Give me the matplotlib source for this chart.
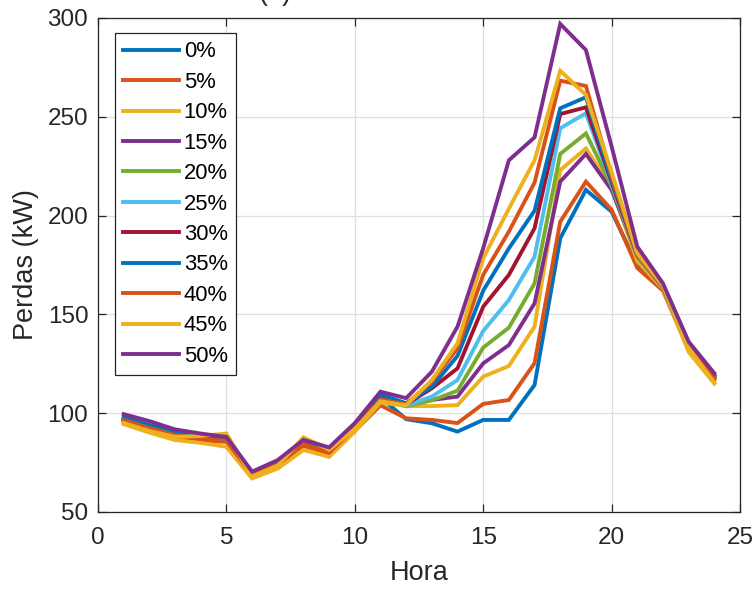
import matplotlib
matplotlib.use("Agg")
import matplotlib.pyplot as plt

plt.rcParams['font.family'] = ['Liberation Sans', 'DejaVu Sans']

hours = list(range(1, 25))
labels = ['0%', '5%', '10%', '15%', '20%', '25%', '30%', '35%', '40%', '45%', '50%']

p0 = [96.5, 92.5, 89, 87, 86.5, 69, 74, 84, 80, 93, 108, 97, 94.9, 90.7, 96.6, 96.6, 114.3, 188.5, 213, 202, 175, 163, 133, 118]
p5 = [95.5, 91.5, 88, 86, 85.5, 68.5, 73.5, 83.5, 79.5, 91, 104, 97.4, 96.6, 95, 104.7, 106.7, 125.3, 196.9, 217.2, 203, 173.5, 162, 132, 117]
p10 = [94.5, 90.2, 86.4, 85, 83, 67, 72, 81.4, 77.9, 90.7, 105.5, 103.6, 103.6, 104.1, 118.5, 123.9, 143.8, 223, 234, 214, 177, 163, 131, 115]
p15 = [97, 93, 89.5, 87.5, 86.5, 69.5, 74.5, 85, 80.5, 93.5, 108.5, 105, 106.7, 108.4, 125.2, 134.5, 155.6, 217.2, 231.2, 213, 180, 164, 134, 118.5]
p20 = [97, 93, 89.5, 87.5, 87, 69.5, 74.5, 85, 80.5, 93.5, 108, 103.5, 106.5, 111.4, 133.2, 143.3, 165.7, 231.2, 241.6, 215, 179, 163.5, 133.5, 118]
p25 = [97.5, 93.5, 90, 88, 88, 70, 75, 85.5, 81, 94, 108.5, 104, 108.4, 116.8, 141.6, 157.3, 179.2, 244.2, 251.8, 216, 179.5, 163.5, 134, 118.5]
p30 = [97, 93, 89.5, 87.5, 86.5, 69.5, 74.5, 85, 80.5, 93.5, 108.5, 104.5, 112.6, 122.7, 153.9, 170, 193.6, 251.4, 254.8, 217, 180, 164, 134.5, 119]
p35 = [98, 94, 90.5, 88.5, 87.5, 70, 75, 86, 81, 94.5, 109.5, 105, 113.4, 129, 162, 183.4, 202.5, 254.3, 259.9, 218, 181, 164.5, 135, 119]
p40 = [96.5, 92.5, 89, 87, 86, 69, 74, 84.5, 80, 92.5, 107, 104.5, 116, 132.8, 170, 191.9, 216.7, 268.3, 265.6, 220, 180, 164, 134, 118]
p45 = [95, 91, 88, 88.5, 89.7, 68, 73.5, 87.8, 81.5, 92, 106, 104, 116.8, 135.4, 178.4, 203.5, 228, 273.3, 261, 222, 181, 164.5, 133, 115.5]
p50 = [99.5, 96, 91.8, 89.7, 88, 70.4, 76.3, 86.5, 82.7, 95, 110.9, 107.6, 121, 143.8, 183.5, 228, 239.6, 297, 283.8, 235, 184.3, 165.7, 136.2, 120.2]

series = [p0, p5, p10, p15, p20, p25, p30, p35, p40, p45, p50]
colors = ['#0072BD', '#D95319', '#EDB120', '#7E2F8E', '#77AC30', '#4DBEEE', '#A2142F']

fig = plt.figure(figsize=(7.55, 5.89), dpi=100)
ax = fig.add_axes([98/755, 1 - 512/589, 642/755, 494/589])

for i, (vals, lab) in enumerate(zip(series, labels)):
    ax.plot(hours, vals, color=colors[i % len(colors)], lw=2.8, label=lab,
            solid_joinstyle='miter')

ax.set_xlim(0, 25)
ax.set_ylim(50, 300)
ax.set_xticks([0, 5, 10, 15, 20, 25])
ax.set_yticks([50, 100, 150, 200, 250, 300])
ax.grid(True, color='#dfdfdf', lw=0.9)
ax.set_axisbelow(True)
for s in ax.spines.values():
    s.set_color('#262626')
    s.set_linewidth(0.9)
ax.tick_params(direction='in', top=True, right=True, length=6, width=0.9,
               colors='#262626', labelsize=17.5, pad=7)
ax.tick_params(axis='x', pad=10.5)
ax.set_xlabel('Hora', fontsize=19.5, color='#262626', labelpad=8)
ax.set_ylabel('Perdas (kW)', fontsize=19.5, color='#262626', labelpad=6)

leg = ax.legend(loc='upper left', bbox_to_anchor=(17/642, 1 - 15/494),
                fontsize=15.8, frameon=True, fancybox=False, framealpha=1,
                edgecolor='#262626', handlelength=2.55, handletextpad=0.2,
                labelspacing=0.43, borderpad=0.38, borderaxespad=0)
leg.get_frame().set_linewidth(0.9)

fig.text(275/755, 1.0, '(a)', fontsize=19.5, color='#262626', ha='center', va='baseline')

fig.savefig('out.png', dpi=100)
